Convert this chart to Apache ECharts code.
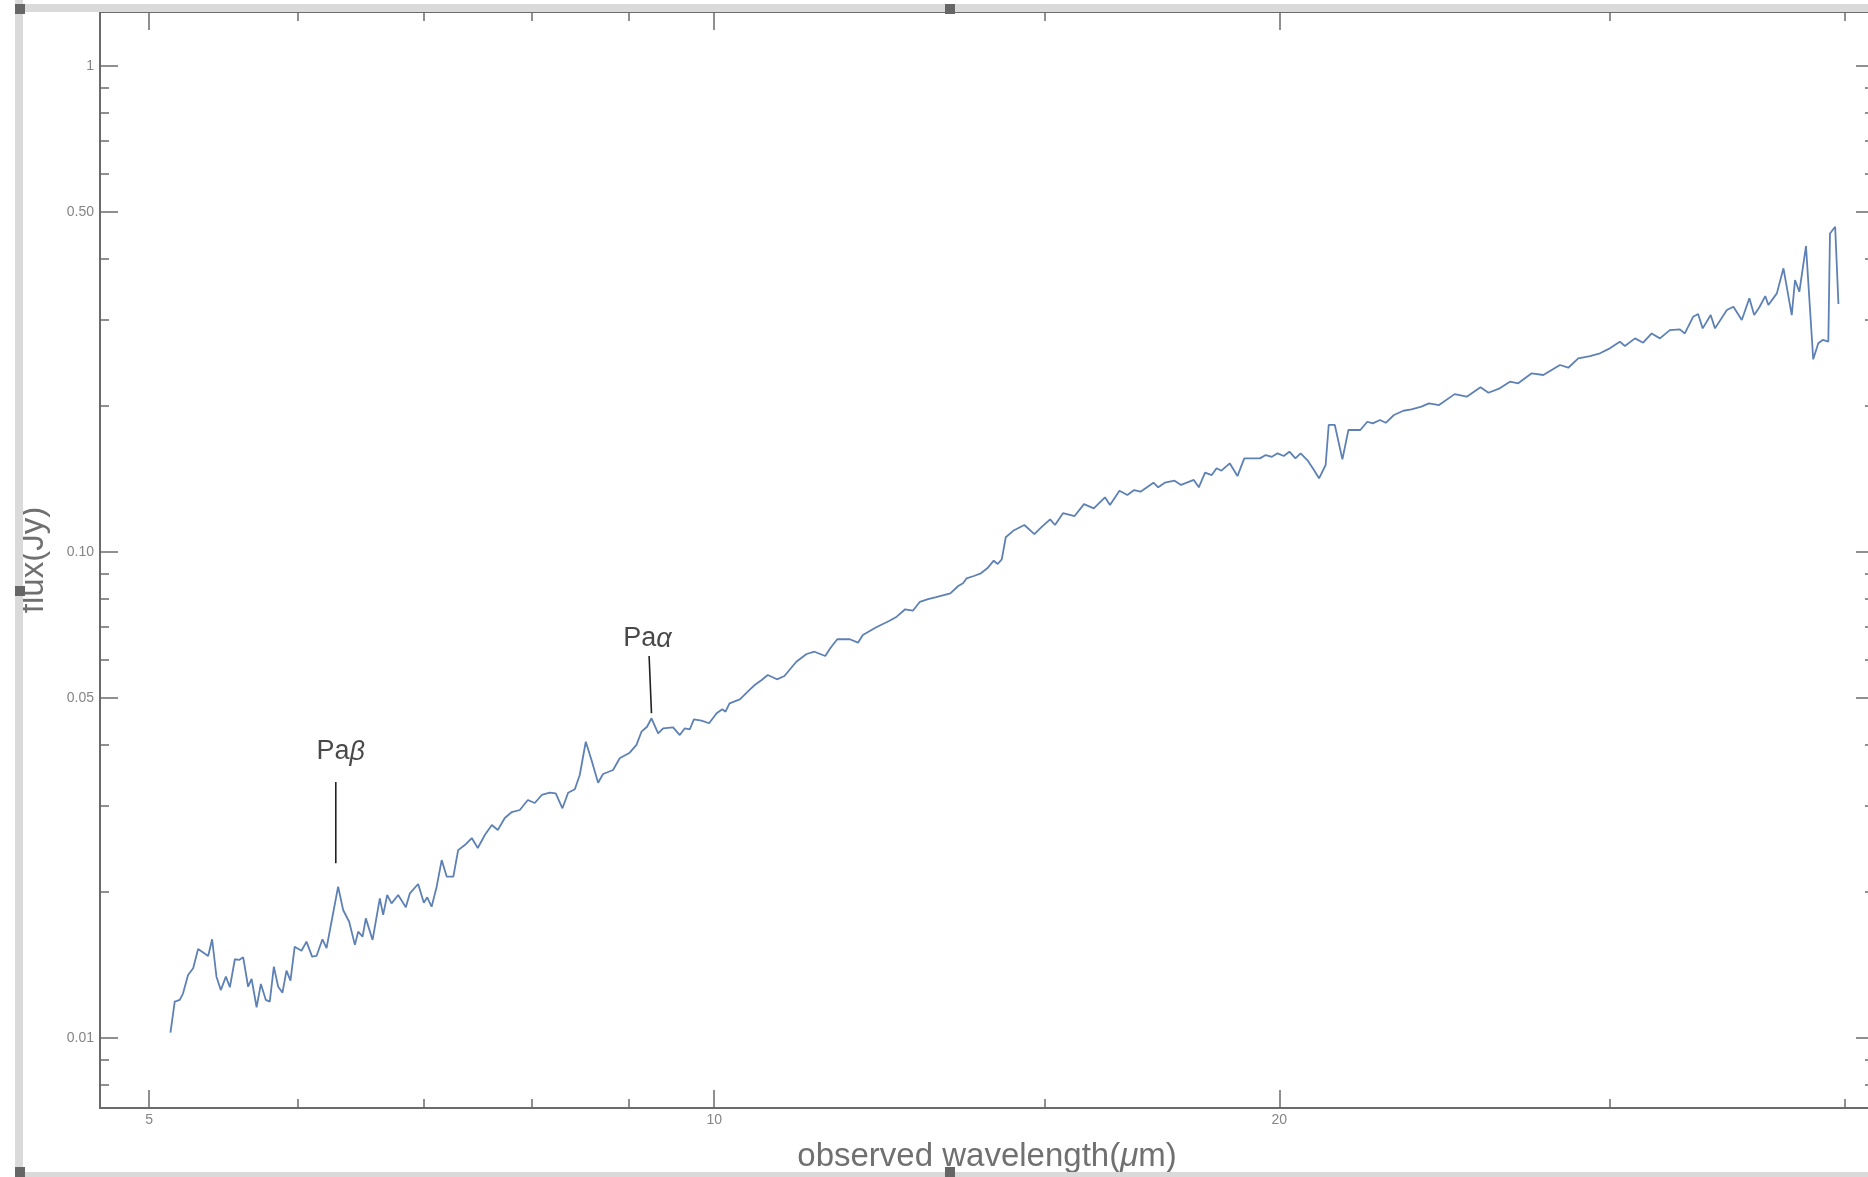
<!DOCTYPE html>
<html>
<head>
<meta charset="utf-8">
<title>observed spectrum</title>
<script src="https://cdn.jsdelivr.net/npm/echarts@6/dist/echarts.min.js"></script>
<style>
  html, body { margin: 0; padding: 0; background: #fff; }
  #chart { width: 1868px; height: 1177px; }
</style>
</head>
<body>
<div id="chart"></div>
<script>
// spectrum (wavelength in micron, flux in Jy)
var wavelength = [
  5.133, 5.160, 5.192, 5.213, 5.245, 5.278, 5.310, 5.376, 5.402, 5.431,
  5.460, 5.494, 5.521, 5.555, 5.584, 5.612, 5.646, 5.670, 5.705, 5.735,
  5.770, 5.798, 5.827, 5.858, 5.889, 5.918, 5.947, 5.978, 6.028, 6.065,
  6.107, 6.140, 6.185, 6.216, 6.254, 6.305, 6.344, 6.391, 6.436, 6.462,
  6.497, 6.523, 6.577, 6.636, 6.663, 6.696, 6.732, 6.787, 6.851, 6.885,
  6.955, 7.004, 7.033, 7.071, 7.115, 7.159, 7.203, 7.262, 7.305, 7.365,
  7.428, 7.483, 7.548, 7.613, 7.669, 7.735, 7.802, 7.879, 7.957, 8.025,
  8.094, 8.174, 8.234, 8.302, 8.360, 8.429, 8.480, 8.543, 8.603, 8.673,
  8.726, 8.834, 8.906, 9.016, 9.091, 9.147, 9.210, 9.260, 9.336, 9.393,
  9.509, 9.587, 9.647, 9.706, 9.754, 9.846, 9.938, 10.03, 10.10, 10.14,
  10.19, 10.32, 10.45, 10.51, 10.60, 10.68, 10.80, 10.90, 11.06, 11.20,
  11.31, 11.46, 11.53, 11.63, 11.81, 11.93, 12.00, 12.20, 12.30, 12.40,
  12.51, 12.64, 12.76, 12.87, 13.00, 13.13, 13.36, 13.49, 13.57, 13.63,
  13.75, 13.87, 13.98, 14.09, 14.16, 14.23, 14.30, 14.43, 14.63, 14.81,
  14.95, 15.10, 15.19, 15.34, 15.56, 15.74, 15.93, 16.15, 16.25, 16.44,
  16.60, 16.74, 16.87, 17.14, 17.24, 17.38, 17.59, 17.73, 18.01, 18.12,
  18.26, 18.41, 18.52, 18.63, 18.82, 19.00, 19.16, 19.35, 19.53, 19.67,
  19.82, 19.96, 20.11, 20.25, 20.40, 20.53, 20.70, 20.84, 21.00, 21.17,
  21.25, 21.41, 21.61, 21.77, 22.09, 22.28, 22.43, 22.63, 22.79, 23.02,
  23.29, 23.52, 23.81, 24.03, 24.33, 24.80, 25.17, 25.60, 25.85, 26.21,
  26.54, 26.81, 27.26, 27.65, 28.22, 28.51, 28.86, 29.28, 29.64, 30.00,
  30.37, 30.56, 30.94, 31.25, 31.58, 31.90, 32.29, 32.69, 32.89, 33.23,
  33.43, 33.62, 33.95, 34.13, 34.63, 34.91, 35.27, 35.60, 35.81, 36.04,
  36.30, 36.44, 36.82, 37.12, 37.50, 37.65, 37.85, 38.16, 38.50, 38.74,
  38.95, 39.22, 39.30, 39.55, 39.71
];
var flux = [
  0.01024, 0.01186, 0.01196, 0.01234, 0.01346, 0.01389, 0.01522, 0.01473, 0.01594, 0.01335,
  0.01253, 0.01335, 0.01270, 0.01450, 0.01445, 0.01463, 0.01273, 0.01321, 0.01155, 0.01290,
  0.01196, 0.01186, 0.01400, 0.01273, 0.01238, 0.01374, 0.01310, 0.01539, 0.01510, 0.01576,
  0.01468, 0.01473, 0.01594, 0.01528, 0.01732, 0.02045, 0.01831, 0.01732, 0.01552, 0.01652,
  0.01614, 0.01760, 0.01589, 0.01935, 0.01789, 0.01966, 0.01890, 0.01966, 0.01855, 0.01982,
  0.02071, 0.01896, 0.01945, 0.01860, 0.02045, 0.02320, 0.02145, 0.02145, 0.02432, 0.02491,
  0.02575, 0.02456, 0.02612, 0.02739, 0.02675, 0.02831, 0.02913, 0.02941, 0.03084, 0.03040,
  0.03158, 0.03192, 0.03183, 0.02965, 0.03192, 0.03244, 0.03471, 0.04064, 0.03727, 0.03347,
  0.03488, 0.03555, 0.03758, 0.03859, 0.04003, 0.04262, 0.04364, 0.04542, 0.04230, 0.04331,
  0.04352, 0.04195, 0.04331, 0.04311, 0.04520, 0.04491, 0.04436, 0.04651, 0.04740, 0.04686,
  0.04876, 0.04969, 0.05210, 0.05317, 0.05445, 0.05576, 0.05463, 0.05549, 0.05938, 0.06159,
  0.06226, 0.06101, 0.06327, 0.06604, 0.06604, 0.06498, 0.06739, 0.06989, 0.07100, 0.07211,
  0.07350, 0.07612, 0.07561, 0.07888, 0.07990, 0.08066, 0.08210, 0.08500, 0.08610, 0.08816,
  0.08913, 0.09028, 0.09244, 0.09583, 0.09434, 0.09646, 0.1071, 0.1104, 0.1135, 0.1087,
  0.1126, 0.1166, 0.1135, 0.1200, 0.1184, 0.1253, 0.1228, 0.1294, 0.1248, 0.1335,
  0.1308, 0.1339, 0.1329, 0.1387, 0.1357, 0.1387, 0.1400, 0.1372, 0.1405, 0.1357,
  0.1454, 0.1438, 0.1485, 0.1468, 0.1520, 0.1431, 0.1556, 0.1556, 0.1556, 0.1581,
  0.1568, 0.1594, 0.1574, 0.1606, 0.1556, 0.1594, 0.1544, 0.1485, 0.1416, 0.1508,
  0.1823, 0.1823, 0.1549, 0.1780, 0.1780, 0.1851, 0.1837, 0.1866, 0.1842, 0.1911,
  0.1950, 0.1963, 0.1988, 0.2020, 0.2003, 0.2110, 0.2084, 0.2179, 0.2124, 0.2169,
  0.2238, 0.2221, 0.2329, 0.2310, 0.2422, 0.2391, 0.2500, 0.2527, 0.2560, 0.2621,
  0.2705, 0.2650, 0.2748, 0.2692, 0.2813, 0.2748, 0.2858, 0.2867, 0.2813, 0.3045,
  0.3084, 0.2881, 0.3069, 0.2881, 0.3143, 0.3193, 0.2997, 0.3322, 0.3069, 0.3184,
  0.3358, 0.3219, 0.3401, 0.3830, 0.3069, 0.3623, 0.3427, 0.4256, 0.2488, 0.2684,
  0.2727, 0.2705, 0.4518, 0.4664, 0.3234
];

// log axes: plot range and tick marks
var xRange = [4.708, 41.48];
var yRange = [0.007166, 1.29];
var xMajorTicks = [5, 10, 20];
var xMinorTicks = [6, 7, 8, 9, 15, 30, 40];
var yMajorTicks = [0.01, 0.05, 0.1, 0.5, 1];
var yMinorTicks = [0.008, 0.009, 0.02, 0.03, 0.04, 0.06, 0.07, 0.08, 0.09,
                   0.2, 0.3, 0.4, 0.6, 0.7, 0.8, 0.9];

// line identifications: label text, label position, marker segment
var lineNames = ['Pa{g|β}', 'Pa{g|α}'];
var lineLabelX = [6.325, 9.213];
var lineLabelY = [0.03871, 0.06613];
var lineMarkX = [[6.287, 6.287], [9.233, 9.260]];
var lineMarkY = [[0.03358, 0.02285], [0.06101, 0.04651]];

var FONT = 'Liberation Sans, Arial, sans-serif';
var AXIS_COLOR = '#6b6b6b';
var LABEL_COLOR = '#858585';
var TITLE_COLOR = '#707070';

function logAxis(pos, range, ticks, len, withLine, label) {
  return {
    type: 'log',
    logBase: 10,
    position: pos,
    min: range[0],
    max: range[1],
    axisLine: { show: withLine, lineStyle: { color: AXIS_COLOR, width: 2 } },
    axisTick: {
      show: true, inside: true, length: len, customValues: ticks,
      lineStyle: { color: AXIS_COLOR, width: 1.5 }
    },
    axisLabel: label || { show: false },
    splitLine: { show: false },
    minorTick: { show: false },
    minorSplitLine: { show: false }
  };
}

var xBottom = logAxis('bottom', xRange, xMajorTicks, 18, true, {
  show: true, customValues: xMajorTicks, margin: 5,
  fontSize: 14, color: LABEL_COLOR, fontFamily: FONT,
  formatter: function (v) { return String(Math.round(v)); }
});
xBottom.name = 'observed wavelength({g|μ}m)';
xBottom.nameLocation = 'middle';
xBottom.nameGap = 32;
xBottom.nameTextStyle = {
  fontSize: 33, color: TITLE_COLOR, fontFamily: FONT,
  rich: { g: { fontSize: 33, color: TITLE_COLOR, fontFamily: FONT, fontStyle: 'italic' } }
};

var yLeft = logAxis('left', yRange, yMajorTicks, 18, true, {
  show: true, customValues: yMajorTicks, margin: 6,
  fontSize: 14, color: LABEL_COLOR, fontFamily: FONT,
  formatter: function (v) { return Math.abs(v - 1) < 1e-9 ? '1' : v.toFixed(2); }
});
yLeft.name = 'flux(Jy)';
yLeft.nameLocation = 'middle';
yLeft.nameGap = 50;
yLeft.nameTextStyle = { fontSize: 33, color: TITLE_COLOR, fontFamily: FONT };

var annotationSeries = lineMarkX.map(function (xs, k) {
  return {
    type: 'line', xAxisIndex: 0, yAxisIndex: 0,
    data: [[xs[0], lineMarkY[k][0]], [xs[1], lineMarkY[k][1]]],
    showSymbol: false, silent: true,
    lineStyle: { color: '#222', width: 1.6 },
    z: 3
  };
});

var labelSeries = {
  type: 'scatter', xAxisIndex: 0, yAxisIndex: 0,
  symbolSize: 0, silent: true,
  data: lineLabelX.map(function (x, i) { return [x, lineLabelY[i]]; }),
  label: {
    show: true, position: 'inside',
    fontSize: 27, color: '#1a1a1a', fontFamily: FONT,
    formatter: function (p) { return lineNames[p.dataIndex]; },
    rich: { g: { fontSize: 27, color: '#1a1a1a', fontFamily: FONT, fontStyle: 'italic' } }
  }
};

var chrome = '#dadada';
var handle = '#666';
function handleRect(cx, cy) {
  return { type: 'rect', shape: { x: cx - 5, y: cy - 5, width: 10, height: 10 },
           style: { fill: handle }, z: 100 };
}

var chart = echarts.init(document.getElementById('chart'), null, { renderer: 'canvas' });
chart.setOption({
  animation: false,
  backgroundColor: '#fff',
  grid: {
    left: 100, top: 12, width: 1774, height: 1096,
    containLabel: false, outerBoundsMode: 'none'
  },
  xAxis: [
    xBottom,
    logAxis('bottom', xRange, xMinorTicks, 9, false),
    logAxis('top', xRange, xMajorTicks, 18, true),
    logAxis('top', xRange, xMinorTicks, 9, false)
  ],
  yAxis: [
    yLeft,
    logAxis('left', yRange, yMinorTicks, 9, false),
    logAxis('right', yRange, yMajorTicks, 18, true),
    logAxis('right', yRange, yMinorTicks, 9, false)
  ],
  series: [{
    type: 'line',
    xAxisIndex: 0, yAxisIndex: 0,
    data: wavelength.map(function (w, i) { return [w, flux[i]]; }),
    showSymbol: false,
    lineStyle: { color: '#5e81b5', width: 1.8 },
    z: 4
  }].concat(annotationSeries, [labelSeries]),
  graphic: [
    { type: 'rect', shape: { x: 15, y: 0, width: 8, height: 1177 }, style: { fill: chrome }, z: 90 },
    { type: 'rect', shape: { x: 15, y: 4, width: 1853, height: 8 }, style: { fill: chrome }, z: 90 },
    { type: 'rect', shape: { x: 15, y: 1172, width: 1853, height: 5 }, style: { fill: chrome }, z: 90 },
    handleRect(20, 9), handleRect(950, 9), handleRect(20, 591),
    handleRect(20, 1172), handleRect(950, 1172)
  ]
});
</script>
</body>
</html>
